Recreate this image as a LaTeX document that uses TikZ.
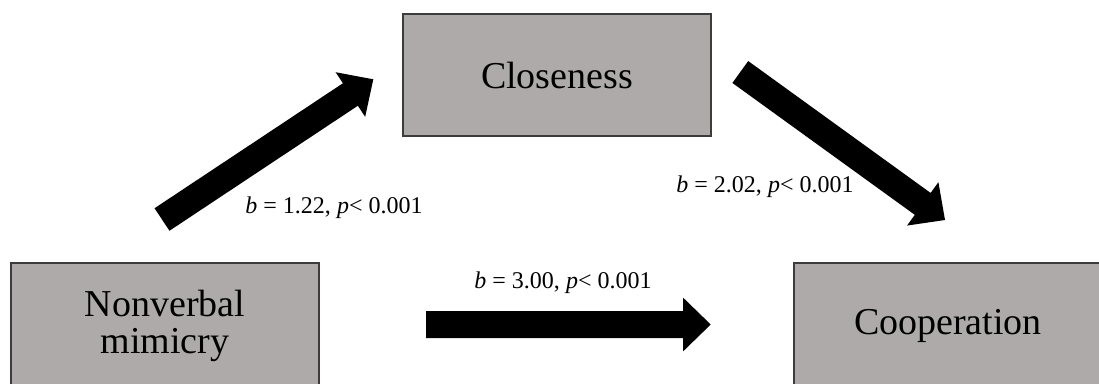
\documentclass[tikz,border=0pt]{standalone}
\usepackage{fontspec}
\setmainfont{Liberation Serif}
\usetikzlibrary{calc}
\definecolor{boxgray}{HTML}{AEAAAA}
\definecolor{boxedge}{HTML}{3C3C3C}
\tikzset{
  varbox/.style={draw=boxedge, fill=boxgray, line width=1.5pt, rectangle,
    minimum width=308pt, inner sep=0pt, align=center,
    font=\fontsize{38}{38}\selectfont},
  pathlabel/.style={inner sep=0pt, font=\fontsize{24}{28}\selectfont},
  arrowfill/.style={fill=black}
}
% thick block arrow: shaft 27pt wide, head 53.5pt wide and 27.5pt long
\newcommand{\blockarrow}[2]{%
  \path ($(#2)!27.5pt!(#1)$) coordinate (headbase);
  \fill[arrowfill]
    ($(#1)!13.5pt!90:(#2)$) --
    ($(headbase)!13.5pt!90:(#2)$) --
    ($(headbase)!26.75pt!90:(#2)$) --
    (#2) --
    ($(headbase)!26.75pt!-90:(#2)$) --
    ($(headbase)!13.5pt!-90:(#2)$) --
    ($(#1)!13.5pt!-90:(#2)$) -- cycle;}
\begin{document}
\begin{tikzpicture}[x=1pt, y=-1pt]
  \useasboundingbox (0,0) rectangle (1099,383);
  \clip (0,0) rectangle (1099,383);

  % variables
  \node[varbox, minimum height=122pt] (close) at (557,75) {Closeness};
  \node[varbox, minimum height=126pt] (mimic) at (165,326) {Nonverbal\\[-1pt]mimicry};
  \node[varbox, minimum height=126pt] (coop) at (948,326) {Cooperation};

  % arrow end points
  \coordinate (a1s) at (162,219.5);
  \coordinate (a1e) at (373.3,79.3);
  \coordinate (a2s) at (740.3,72);
  \coordinate (a2e) at (945,220);
  \coordinate (a3s) at (426,324.5);
  \coordinate (a3e) at (710.7,324.5);

  \blockarrow{a1s}{a1e}
  \blockarrow{a2s}{a2e}
  \blockarrow{a3s}{a3e}

  % path coefficients
  \node[pathlabel] (l1) at (334,208) {\textit{b} = 1.22, \textit{p}< 0.001};
  \node[pathlabel] (l2) at (765,187) {\textit{b} = 2.02, \textit{p}< 0.001};
  \node[pathlabel] (l3) at (563,283) {\textit{b} = 3.00, \textit{p}< 0.001};
\end{tikzpicture}
\end{document}
